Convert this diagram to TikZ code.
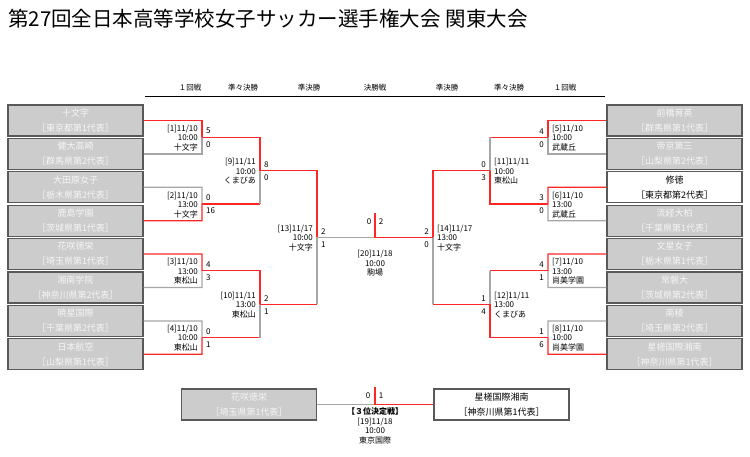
\documentclass[tikz,border=0pt]{standalone}
\usepackage{fontspec}
\setmainfont{Noto Sans CJK JP}
\begin{document}
\begin{tikzpicture}[x=1pt,y=-1pt,
  W/.style={draw=red!85!white,line width=1.3pt},
  G/.style={draw=black!35,line width=1.3pt},
  gbox/.style={draw=black!65,line width=1.2pt,fill=black!20,text=black!4,minimum width=135pt,minimum height=31pt,align=center,inner sep=0pt,font=\fontsize{9}{15}\selectfont},
  wbox/.style={gbox,fill=white,text=black},
  ml/.style={font=\fontsize{8}{9.5}\selectfont,inner sep=0pt},
  hd/.style={font=\fontsize{7.5}{9}\selectfont,inner sep=0pt}]
\useasboundingbox (0,0) rectangle (750,457);
\node[anchor=west,inner sep=0pt,font=\fontsize{20.5}{24}\selectfont] (title) at (8,19) {第27回全日本高等学校女子サッカー選手権大会 関東大会};
% header
\draw[black,line width=0.8pt] (145,96) -- (605,96);
\foreach \x/\t [count=\i] in {190/１回戦,243/準々決勝,309/準決勝,375/決勝戦,447/準決勝,509/準々決勝,565/１回戦}
  \node[hd] (h\i) at (\x,88) {\t};
% left teams
\foreach \n/\r [count=\i] in {十文字/東京都第1代表,健大高崎/群馬県第2代表,大田原女子/栃木県第2代表,鹿島学園/茨城県第1代表,花咲徳栄/埼玉県第1代表,湘南学院/神奈川県第2代表,暁星国際/千葉県第2代表,日本航空/山梨県第1代表}
  \node[gbox] (L\i) at (75.5,{120.5+33.4*(\i-1)}) {\n\\［\r］};
\foreach \n/\r [count=\i] in {前橋育英/群馬県第1代表,帝京第三/山梨県第2代表,修徳/東京都第2代表,流経大柏/千葉県第1代表,文星女子/栃木県第1代表,常磐大/茨城県第2代表,南稜/埼玉県第2代表,星槎国際湘南/神奈川県第1代表}
  \node[gbox] (R\i) at (674.5,{120.5+33.4*(\i-1)}) {\n\\［\r］};
\node[wbox] at (R3) {修徳\\［東京都第2代表］};
% ---- left R1
\draw[W] (L1.east) -- (202,120.5) -- (202,137.2);
\draw[G] (L2.east) -- (202,153.9) -- (202,137.2);
\draw[G] (L3.east) -- (202,187.3) -- (202,204);
\draw[W] (L4.east) -- (202,220.7) -- (202,204);
\draw[W] (L5.east) -- (202,254.1) -- (202,270.8);
\draw[G] (L6.east) -- (202,287.5) -- (202,270.8);
\draw[G] (L7.east) -- (202,320.9) -- (202,337.6);
\draw[W] (L8.east) -- (202,354.3) -- (202,337.6);
\draw[W] (202,137.2) -- (260,137.2) -- (260,170.6);
\draw[W] (202,204) -- (260,204);
\draw[G] (260,204) -- (260,170.6);
\draw[W] (202,270.8) -- (260,270.8) -- (260,304.2);
\draw[W] (202,337.6) -- (260,337.6);
\draw[G] (260,337.6) -- (260,304.2);
\draw[W] (260,170.6) -- (317,170.6) -- (317,237.4);
\draw[W] (260,304.2) -- (317,304.2);
\draw[G] (317,304.2) -- (317,237.4);
\draw[G] (317,237.4) -- (375,237.4);
% ---- right R1
\draw[W] (R1.west) -- (548,120.5) -- (548,137.2);
\draw[G] (R2.west) -- (548,153.9) -- (548,137.2);
\draw[W] (R3.west) -- (548,187.3) -- (548,204);
\draw[G] (R4.west) -- (548,220.7) -- (548,204);
\draw[W] (R5.west) -- (548,254.1) -- (548,270.8);
\draw[G] (R6.west) -- (548,287.5) -- (548,270.8);
\draw[G] (R7.west) -- (548,320.9) -- (548,337.6);
\draw[W] (R8.west) -- (548,354.3) -- (548,337.6);
\draw[W] (548,137.2) -- (490,137.2);
\draw[G] (490,137.2) -- (490,170.6);
\draw[W] (548,204) -- (490,204) -- (490,170.6);
\draw[W] (548,270.8) -- (490,270.8);
\draw[G] (490,270.8) -- (490,304.2);
\draw[W] (548,337.6) -- (490,337.6) -- (490,304.2);
\draw[W] (490,170.6) -- (433,170.6) -- (433,237.4);
\draw[W] (490,304.2) -- (433,304.2);
\draw[G] (433,304.2) -- (433,237.4);
\draw[W] (433,237.4) -- (375,237.4) -- (375,213);
% ---- left labels
\node[ml,anchor=east,align=right] (m1) at (198,138) {[1]11/10\\10:00\\十文字};
\node[ml,anchor=east,align=right] (m2) at (198,205) {[2]11/10\\13:00\\十文字};
\node[ml,anchor=east,align=right] (m3) at (198,271.5) {[3]11/10\\13:00\\東松山};
\node[ml,anchor=east,align=right] (m4) at (198,338) {[4]11/10\\10:00\\東松山};
\node[ml,anchor=east,align=right] (m9) at (256,171.5) {[9]11/11\\10:00\\くまびあ};
\node[ml,anchor=east,align=right] (m10) at (256,305) {[10]11/11\\13:00\\東松山};
\node[ml,anchor=east,align=right] (m13) at (313,238) {[13]11/17\\10:00\\十文字};
\foreach \x/\y/\a/\b in {202/137.2/5/0,202/204/0/16,202/270.8/4/3,202/337.6/0/1,260/170.6/8/0,260/304.2/2/1,317/237.4/2/1}{
  \node[ml,anchor=west] at (\x+4,\y-6) {\a};
  \node[ml,anchor=west] at (\x+4,\y+7) {\b};}
% ---- right labels
\node[ml,anchor=west,align=left] (m5) at (552,138) {[5]11/10\\10:00\\武蔵丘};
\node[ml,anchor=west,align=left] (m6) at (552,205) {[6]11/10\\13:00\\武蔵丘};
\node[ml,anchor=west,align=left] (m7) at (552,271.5) {[7]11/10\\13:00\\尚美学園};
\node[ml,anchor=west,align=left] (m8) at (552,338) {[8]11/10\\10:00\\尚美学園};
\node[ml,anchor=west,align=left] (m11) at (494,171.5) {[11]11/11\\10:00\\東松山};
\node[ml,anchor=west,align=left] (m12) at (494,305) {[12]11/11\\13:00\\くまびあ};
\node[ml,anchor=west,align=left] (m14) at (437,238) {[14]11/17\\13:00\\十文字};
\foreach \x/\y/\a/\b in {548/137.2/4/0,548/204/3/0,548/270.8/4/1,548/337.6/1/6,490/170.6/0/3,490/304.2/1/4,433/237.4/2/0}{
  \node[ml,anchor=east] at (\x-4,\y-6) {\a};
  \node[ml,anchor=east] at (\x-4,\y+7) {\b};}
% final
\node[ml] at (369,222) {0};
\node[ml] at (381,222) {2};
\node[ml,align=center] (m20) at (375,263.5) {[20]11/18\\10:00\\駒場};
% third place
\node[gbox] (T1) at (249,404.5) {花咲徳栄\\［埼玉県第1代表］};
\node[wbox] (T2) at (501.5,404.5) {星槎国際湘南\\［神奈川県第1代表］};
\draw[G] (T1.east) -- (375,404.5);
\draw[W] (T2.west) -- (375,404.5) -- (375,387);
\node[ml] at (368,396) {0};
\node[ml] at (381,396) {1};
\node[ml,align=center] (m19) at (375,426) {\textbf{【３位決定戦】}\\{}[19]11/18\\10:00\\東京国際};
\end{tikzpicture}
\end{document}
